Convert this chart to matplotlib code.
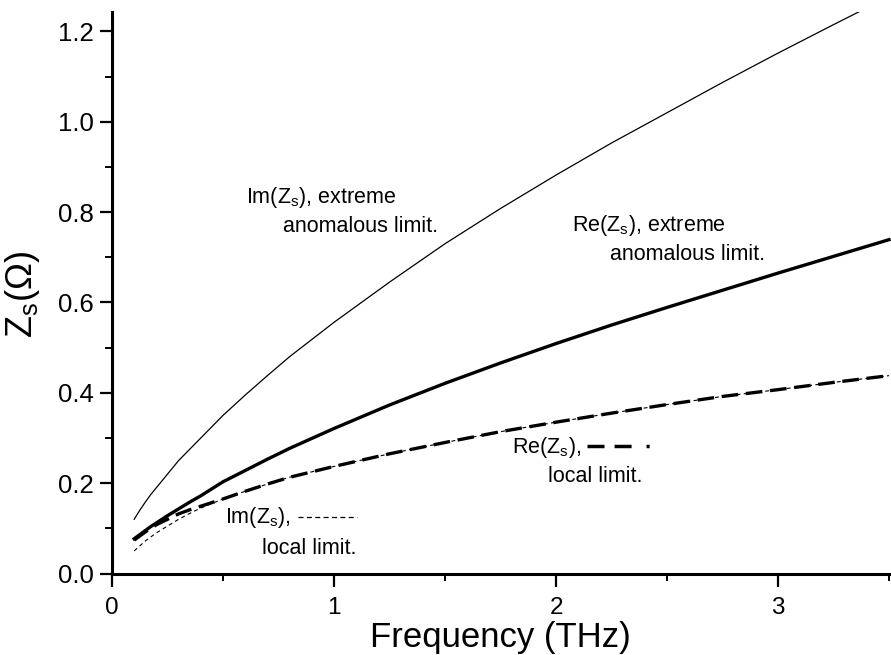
import matplotlib
matplotlib.use("Agg")
from matplotlib import pyplot as plt
from matplotlib.lines import Line2D
from matplotlib import ticker as plticker

plt.rcParams['font.family'] = ['Liberation Sans', 'DejaVu Sans']
plt.rcParams['mathtext.fontset'] = 'custom'
plt.rcParams['mathtext.rm'] = 'Liberation Sans'
plt.rcParams['mathtext.it'] = 'Liberation Sans'

# frequency grid (THz)
freq = [0.1, 0.125, 0.15, 0.175, 0.2, 0.25, 0.3, 0.35, 0.4, 0.5, 0.6, 0.7,
        0.8, 1.0, 1.25, 1.5, 1.75, 2.0, 2.25, 2.5, 2.75, 3.0, 3.25, 3.5]

# surface impedance curves (Ohm)
re_extreme = [0.077, 0.086, 0.095, 0.104, 0.112, 0.128, 0.143, 0.158, 0.172,
              0.203, 0.228, 0.253, 0.277, 0.321, 0.373, 0.421, 0.466, 0.509,
              0.55, 0.589, 0.627, 0.665, 0.702, 0.739]
im_extreme = [0.12, 0.14, 0.158, 0.175, 0.19, 0.22, 0.25, 0.275, 0.30,
              0.35, 0.395, 0.438, 0.48, 0.556, 0.645, 0.73, 0.808, 0.882,
              0.953, 1.02, 1.087, 1.152, 1.215, 1.277]
re_local = [0.074, 0.083, 0.092, 0.1, 0.108, 0.12, 0.132, 0.141, 0.149,
            0.165, 0.182, 0.198, 0.213, 0.237, 0.265, 0.29, 0.314, 0.335,
            0.355, 0.374, 0.392, 0.407, 0.423, 0.438]
im_local = [0.05, 0.061, 0.072, 0.081, 0.09, 0.105, 0.12, 0.133, 0.145,
            0.165, 0.182, 0.198, 0.213, 0.237, 0.265, 0.29, 0.314, 0.335,
            0.355, 0.374, 0.392, 0.407, 0.423, 0.438]

x_ticks = [0, 1, 2, 3]
y_ticks = [0.0, 0.2, 0.4, 0.6, 0.8, 1.0, 1.2]

W, H = 891, 655
fig = plt.figure(figsize=(W / 100, H / 100), dpi=100)
ax = fig.add_axes([112 / W, 81.5 / H, 779 / W, 561.5 / H])


def px(x, y):
    # pixel position -> figure fraction
    return x / W, 1 - y / H


ax.plot(freq, im_extreme, color='black', lw=0.9)
ax.plot(freq, re_extreme, color='black', lw=2.4)
ax.plot(freq, re_local, color='black', lw=2.4, dashes=(5, 2.3))
ax.plot(freq, im_local, color='black', lw=0.8, dashes=(3.5, 3))

ax.set_xlim(0, 3.509)
ax.set_ylim(0, 1.243)
ax.set_xticks(x_ticks)
ax.set_yticks(y_ticks)
ax.xaxis.set_major_formatter(plticker.FormatStrFormatter('%d'))
ax.yaxis.set_major_formatter(plticker.FormatStrFormatter('%.1f'))
ax.xaxis.set_minor_locator(plticker.MultipleLocator(0.5))
ax.yaxis.set_minor_locator(plticker.MultipleLocator(0.1))

for side in ['top', 'right']:
    ax.spines[side].set_visible(False)
for side in ['left', 'bottom']:
    ax.spines[side].set_linewidth(2.2)

ax.tick_params(which='major', direction='out', length=9, width=1.6)
ax.tick_params(which='minor', direction='out', length=5, width=1.4)
ax.tick_params(axis='y', labelsize=18.5, pad=4)
ax.tick_params(axis='x', labelsize=17.5, pad=8)

fig.text(*px(500, 638), 'Frequency (THz)', fontsize=25, ha='center', va='center')
fig.text(*px(22, 295), r'Z$_\mathrm{s}$(Ω)', fontsize=26, ha='center', va='center',
         rotation=90)

fs = 15.5
fig.text(*px(246, 197), r'Im(Z$_\mathrm{s}$), extreme', fontsize=fs, va='center')
fig.text(*px(283, 227), 'anomalous limit.', fontsize=fs, va='center')
fig.text(*px(572, 225), r'Re(Z$_\mathrm{s}$), extreme', fontsize=fs, va='center')
fig.text(*px(610, 255), 'anomalous limit.', fontsize=fs, va='center')
fig.text(*px(512, 447), r'Re(Z$_\mathrm{s}$),', fontsize=fs, va='center')
fig.text(*px(548, 477), 'local limit.', fontsize=fs, va='center')
fig.text(*px(225, 517), r'Im(Z$_\mathrm{s}$),', fontsize=fs, va='center')
fig.text(*px(262, 548), 'local limit.', fontsize=fs, va='center')

# line samples next to the local-limit labels
(x0, y0), (x1, y1) = px(587, 446), px(652, 446)
fig.add_artist(Line2D([x0, x1], [y0, y1], color='black', lw=2.5,
                      dashes=(4.9, 2.9, 4.9, 4.3, 0.9, 20)))
(x0, y0), (x1, y1) = px(298, 517), px(357, 517)
fig.add_artist(Line2D([x0, x1], [y0, y1], color='black', lw=0.9,
                      dashes=(4, 2.7)))

plt.savefig('out.png', dpi=100)
plt.close()
